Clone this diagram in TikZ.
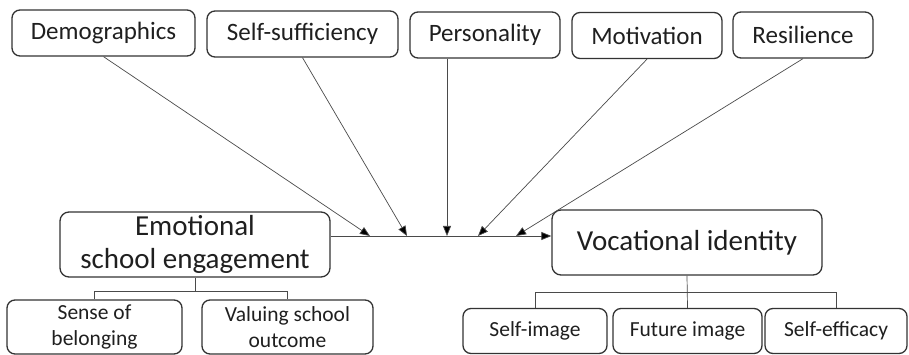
\documentclass[tikz,border=0pt]{standalone}
\usepackage{fontspec}
\setmainfont{Carlito}
\usetikzlibrary{arrows.meta}
\definecolor{boxgray}{HTML}{333333}
\definecolor{linegray}{HTML}{4A4A4A}
\tikzset{
  factor/.style={draw=boxgray, line width=1.3pt, rounded corners=8pt, minimum height=46pt, inner sep=1pt, text=black!88, font=\fontsize{25}{30}\selectfont},
  core/.style={draw=boxgray, line width=1.3pt, rounded corners=9pt, minimum height=65pt, minimum width=270pt, inner sep=1pt, align=center, text=black!88, font=\fontsize{29}{33}\selectfont},
  part/.style={draw=boxgray, line width=1.3pt, rounded corners=8pt, inner sep=1pt, align=center, text=black!88, font=\fontsize{21.5}{26}\selectfont},
  link/.style={draw=linegray, line width=0.7pt},
  push/.style={link, -{Triangle[length=10pt,width=8pt,fill=black]}}
}

\begin{document}
\begin{tikzpicture}[x=1pt,y=-1pt]
\useasboundingbox (0,0) rectangle (909,355);
% influencing factors
\node[factor, minimum width=183pt] (demo) at (103.5,33) {Demographics};
\node[factor, minimum width=191pt] (suff) at (302.5,34) {Self-sufficiency};
\node[factor, minimum width=150pt] (pers) at (485,35) {Personality};
\node[factor, minimum width=150pt] (moti) at (647,35.5) {Motivation};
\node[factor, minimum width=140pt] (resi) at (803,35) {Resilience};
% main constructs
\node[core] (emo) at (195,244.5) {Emotional\\school engagement};
\node[core] (voc) at (687,242.5) {Vocational identity};
% sub dimensions
\node[part, minimum width=175pt, minimum height=54pt] (sense) at (94.5,327) {Sense of\\belonging};
\node[part, minimum width=171pt, minimum height=54pt] (value) at (287.5,327) {Valuing school\\outcome};
\node[part, minimum width=144pt, minimum height=45pt] (simg) at (535,331) {Self-image};
\node[part, minimum width=149pt, minimum height=45pt] (fimg) at (687.5,331) {Future image};
\node[part, minimum width=142pt, minimum height=45pt] (seff) at (836,331) {Self-efficacy};
% meeting points on the main arrow
\coordinate (m1) at (370,236);
\coordinate (m2) at (407,236);
\coordinate (m3) at (447,236);
\coordinate (m4) at (478,236);
\coordinate (m5) at (516,236);
\draw[push] (emo.east |- m1) -- (voc.west |- m1);
\draw[push] (demo.south) -- (m1);
\draw[push] (suff.south) -- (m2);
\draw[push] (pers.south -| m3) -- (m3);
\draw[push] (moti.south) -- (m4);
\draw[push] (resi.south) -- (m5);
% brackets
\draw[link] (emo.south) -- ++(0,14) -| (sense.north);
\draw[link] (emo.south) ++(0,14) -| (value.north);
\draw[link] (voc.south) -- (fimg.north);
\draw[link] (voc.south) ++(0,17) -| (simg.north);
\draw[link] (voc.south) ++(0,17) -| (seff.north);
\end{tikzpicture}
\end{document}
